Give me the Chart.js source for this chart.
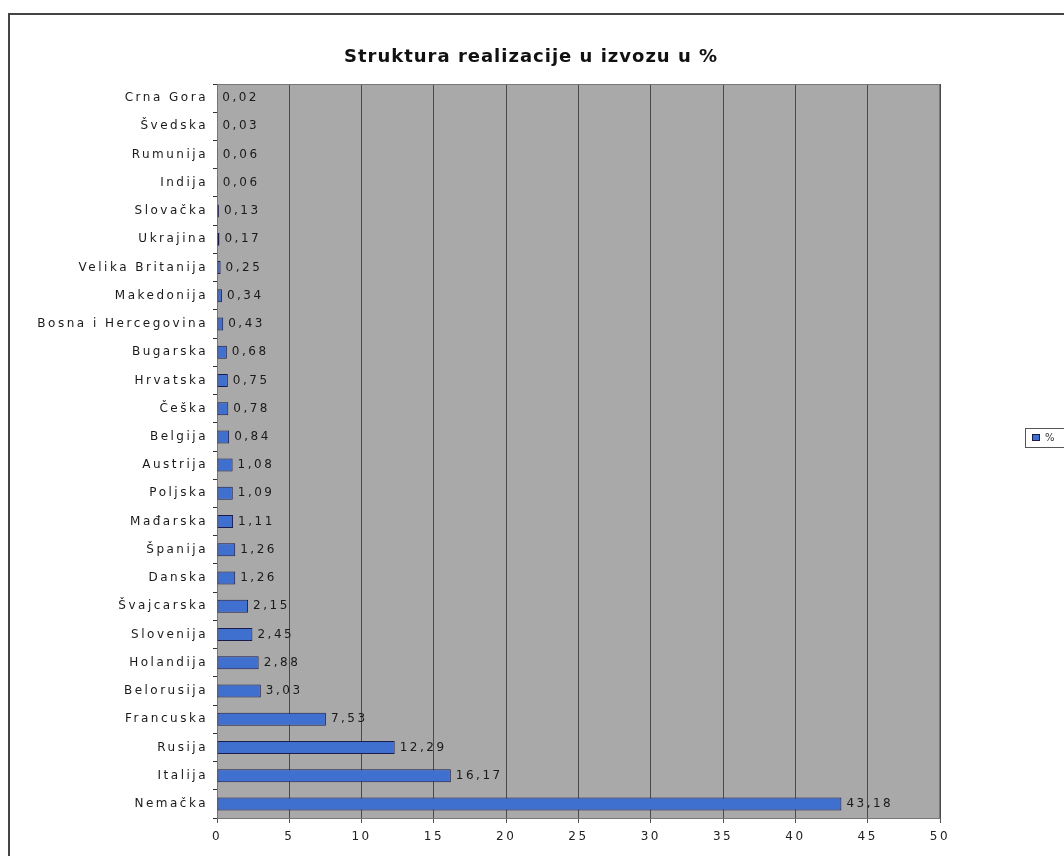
<!DOCTYPE html>
<html>
<head>
<meta charset="utf-8">
<script src="https://cdn.jsdelivr.net/npm/chart.js@4/dist/chart.umd.min.js"></script>
<style>
    body { margin: 0; background: #fff; }
    #wrap { width: 1064px; height: 856px; position: relative; }
</style>
</head>
<body>
<div id="wrap"><canvas id="izvozChart" width="1064" height="856"></canvas></div>
<script>
// Podaci: struktura realizacije u izvozu (%)
const zemlje = ["Crna Gora", "Švedska", "Rumunija", "Indija", "Slovačka", "Ukrajina",
    "Velika Britanija", "Makedonija", "Bosna i Hercegovina", "Bugarska", "Hrvatska",
    "Češka", "Belgija", "Austrija", "Poljska", "Mađarska", "Španija", "Danska",
    "Švajcarska", "Slovenija", "Holandija", "Belorusija", "Francuska", "Rusija",
    "Italija", "Nemačka"];
const procenti = [0.02, 0.03, 0.06, 0.06, 0.13, 0.17, 0.25, 0.34, 0.43, 0.68, 0.75,
    0.78, 0.84, 1.08, 1.09, 1.11, 1.26, 1.26, 2.15, 2.45, 2.88, 3.03, 7.53, 12.29,
    16.17, 43.18];
const xOsa = [0, 5, 10, 15, 20, 25, 30, 35, 40, 45, 50];
const naslov = "Struktura realizacije u izvozu u %";
const nazivSerije = "%";

const fmt = v => v.toFixed(2).replace(".", ",");

// pozadina, okvir, naslov i legenda
const okvirPlugin = {
    id: "okvir",
    beforeDraw(chart) {
        const { ctx, chartArea: a } = chart;
        ctx.letterSpacing = "2.5px";
        ctx.save();
        ctx.fillStyle = "#fff";
        ctx.fillRect(0, 0, chart.width, chart.height);
        ctx.strokeStyle = "#444";
        ctx.lineWidth = 2;
        ctx.beginPath();
        ctx.moveTo(9, 856);
        ctx.lineTo(9, 14);
        ctx.lineTo(1064, 14);
        ctx.stroke();
        ctx.fillStyle = "#a9a9a9";
        ctx.fillRect(a.left, a.top, a.right - a.left, a.bottom - a.top);
        ctx.restore();
    },
    beforeDatasetsDraw(chart) {
        const { ctx, chartArea: a } = chart;
        ctx.save();
        ctx.strokeStyle = "#777";
        ctx.lineWidth = 1;
        ctx.strokeRect(a.left + 0.5, a.top + 0.5, a.right - a.left - 1, a.bottom - a.top);
        ctx.restore();
    },
    afterDraw(chart) {
        const ctx = chart.ctx;
        ctx.save();
        // naslov
        ctx.letterSpacing = "1px";
        ctx.fillStyle = "#111";
        ctx.font = "bold 18px 'DejaVu Sans'";
        ctx.textAlign = "center";
        ctx.textBaseline = "middle";
        ctx.fillText(naslov, 531, 57);
        // legenda
        ctx.letterSpacing = "2px";
        ctx.textAlign = "left";
        ctx.strokeStyle = "#555";
        ctx.lineWidth = 1;
        ctx.strokeRect(1025.5, 428.5, 60, 19);
        ctx.fillStyle = "#3f6fcf";
        ctx.strokeStyle = "#1c1c4a";
        ctx.fillRect(1032, 434, 8, 7);
        ctx.strokeRect(1032.5, 434.5, 7, 6);
        ctx.fillStyle = "#333";
        ctx.font = "10px 'DejaVu Sans'";
        ctx.fillText(nazivSerije, 1045, 438);
        ctx.restore();
    }
};

// vrednosti pored stubica
const vrednostiPlugin = {
    id: "vrednosti",
    afterDatasetsDraw(chart) {
        const ctx = chart.ctx;
        const meta = chart.getDatasetMeta(0);
        ctx.save();
        ctx.font = "12px 'DejaVu Sans'";
        ctx.fillStyle = "#1a1a1a";
        ctx.textBaseline = "middle";
        meta.data.forEach((bar, i) => {
            ctx.fillText(fmt(procenti[i]), bar.x + 5, bar.y);
        });
        ctx.restore();
    }
};

new Chart(document.getElementById("izvozChart"), {
    type: "bar",
    data: {
        labels: zemlje,
        datasets: [{
            label: nazivSerije,
            data: procenti,
            backgroundColor: "#3f6fcf",
            borderColor: "#1c1c4a",
            borderWidth: 1,
            borderSkipped: false,
            categoryPercentage: 1,
            barPercentage: 0.46,
        }],
    },
    options: {
        indexAxis: "y",
        responsive: false,
        animation: false,
        layout: { padding: { left: 0, right: 124, top: 84, bottom: 0 } },
        plugins: {
            legend: { display: false },
            tooltip: { enabled: false },
            title: { display: false },
        },
        scales: {
            x: {
                min: 0,
                max: 50,
                afterBuildTicks(scale) {
                    scale.ticks = xOsa.map(v => ({ value: v }));
                },
                afterFit(scale) { scale.height = 38; },
                grid: { color: "#4a4a4a", lineWidth: 1, tickLength: 5, tickColor: "#555" },
                border: { color: "#555" },
                ticks: {
                    color: "#222",
                    padding: 7,
                    font: { family: "DejaVu Sans", size: 12 },
                },
            },
            y: {
                afterFit(scale) { scale.width = 217; },
                grid: { offset: true, drawOnChartArea: false, tickLength: 4, tickColor: "#333" },
                border: { color: "#222" },
                ticks: {
                    color: "#1a1a1a",
                    padding: 5,
                    autoSkip: false,
                    font: { family: "DejaVu Sans", size: 12 },
                },
            },
        },
    },
    plugins: [okvirPlugin, vrednostiPlugin],
});
</script>
</body>
</html>
